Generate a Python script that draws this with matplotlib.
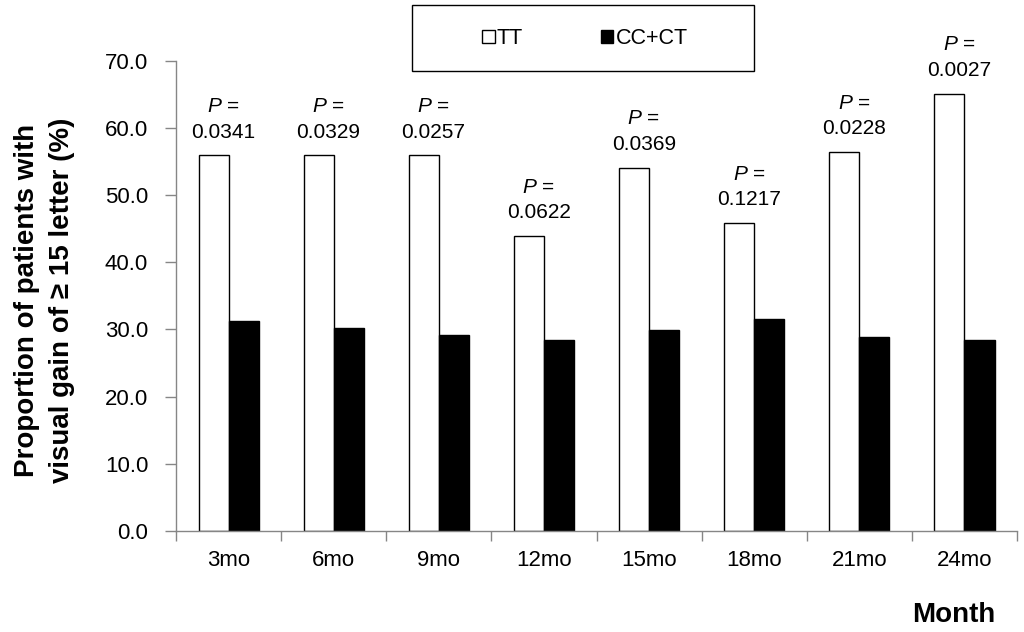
import matplotlib.pyplot as plt
import numpy as np
from matplotlib.patches import Patch, Rectangle

plt.rcParams['font.family'] = ['Liberation Sans', 'DejaVu Sans']
plt.rcParams['mathtext.fontset'] = 'custom'
plt.rcParams['mathtext.it'] = 'Liberation Sans:italic'
plt.rcParams['mathtext.rm'] = 'Liberation Sans'

# data
months = ["3mo", "6mo", "9mo", "12mo", "15mo", "18mo", "21mo", "24mo"]
tt = [55.9, 55.9, 55.9, 43.9, 54.1, 45.8, 56.4, 65.1]
cc_ct = [31.2, 30.2, 29.2, 28.5, 29.9, 31.6, 28.8, 28.5]
p_values = ["0.0341", "0.0329", "0.0257", "0.0622", "0.0369", "0.1217", "0.0228", "0.0027"]

grey = '#868686'

fig = plt.figure(figsize=(10.24, 6.32), dpi=100)
ax = fig.add_axes([0.1719, 0.1598, 0.8213, 0.7442])

x = np.arange(len(months))
w = 0.286
ax.bar(x - w / 2, tt, w, color='white', edgecolor='black', linewidth=1)
ax.bar(x + w / 2, cc_ct, w, color='black', edgecolor='black', linewidth=1)

# p-value labels above the TT bars
for xi, h, p in zip(x, tt, p_values):
    ax.annotate("$\\mathit{P}$ =\n" + p, (xi - 0.05, h), xytext=(0, 10),
                textcoords='offset points', ha='center', va='bottom',
                fontsize=15, linespacing=1.42)

ax.set_xlim(-0.5, len(months) - 0.5)
ax.set_ylim(0, 70)
ax.set_yticks(np.arange(0, 71, 10))
ax.set_yticklabels(['%.1f' % v for v in np.arange(0, 71, 10)], fontsize=16)
ax.set_xticks(x)
ax.set_xticklabels(months, fontsize=16)
ax.set_xticks(np.arange(-0.5, len(months), 1), minor=True)
ax.tick_params(axis='x', which='major', length=0, pad=14)
ax.tick_params(axis='x', which='minor', length=7, color=grey, width=1)
ax.tick_params(axis='y', length=8, color=grey, width=1, pad=12)

for s in ['top', 'right']:
    ax.spines[s].set_visible(False)
for s in ['left', 'bottom']:
    ax.spines[s].set_color(grey)
    ax.spines[s].set_linewidth(1)

fig.text(0.043, 0.525, "Proportion of patients with\nvisual gain of \u2265 15 letter (%)",
         rotation=90, ha='center', va='center', fontsize=20, fontweight='bold',
         linespacing=1.45)
fig.text(0.972, 0.027, "Month", ha='right', va='center', fontsize=20, fontweight='bold')

# legend with its own frame
handles = [Patch(facecolor='white', edgecolor='black', label='TT'),
           Patch(facecolor='black', edgecolor='black', label='CC+CT')]
fig.legend(handles=handles, loc='center', bbox_to_anchor=(0.571, 0.939), frameon=False,
           ncol=2, columnspacing=3.6, handlelength=0.6, handleheight=0.6,
           handletextpad=0.1, fontsize=15.5)
fig.patches.append(Rectangle((412 / 1024, 1 - 71 / 632), 342 / 1024, 66 / 632,
                             transform=fig.transFigure, fill=False,
                             edgecolor='black', linewidth=1))

fig.savefig('out.png', dpi=100)
